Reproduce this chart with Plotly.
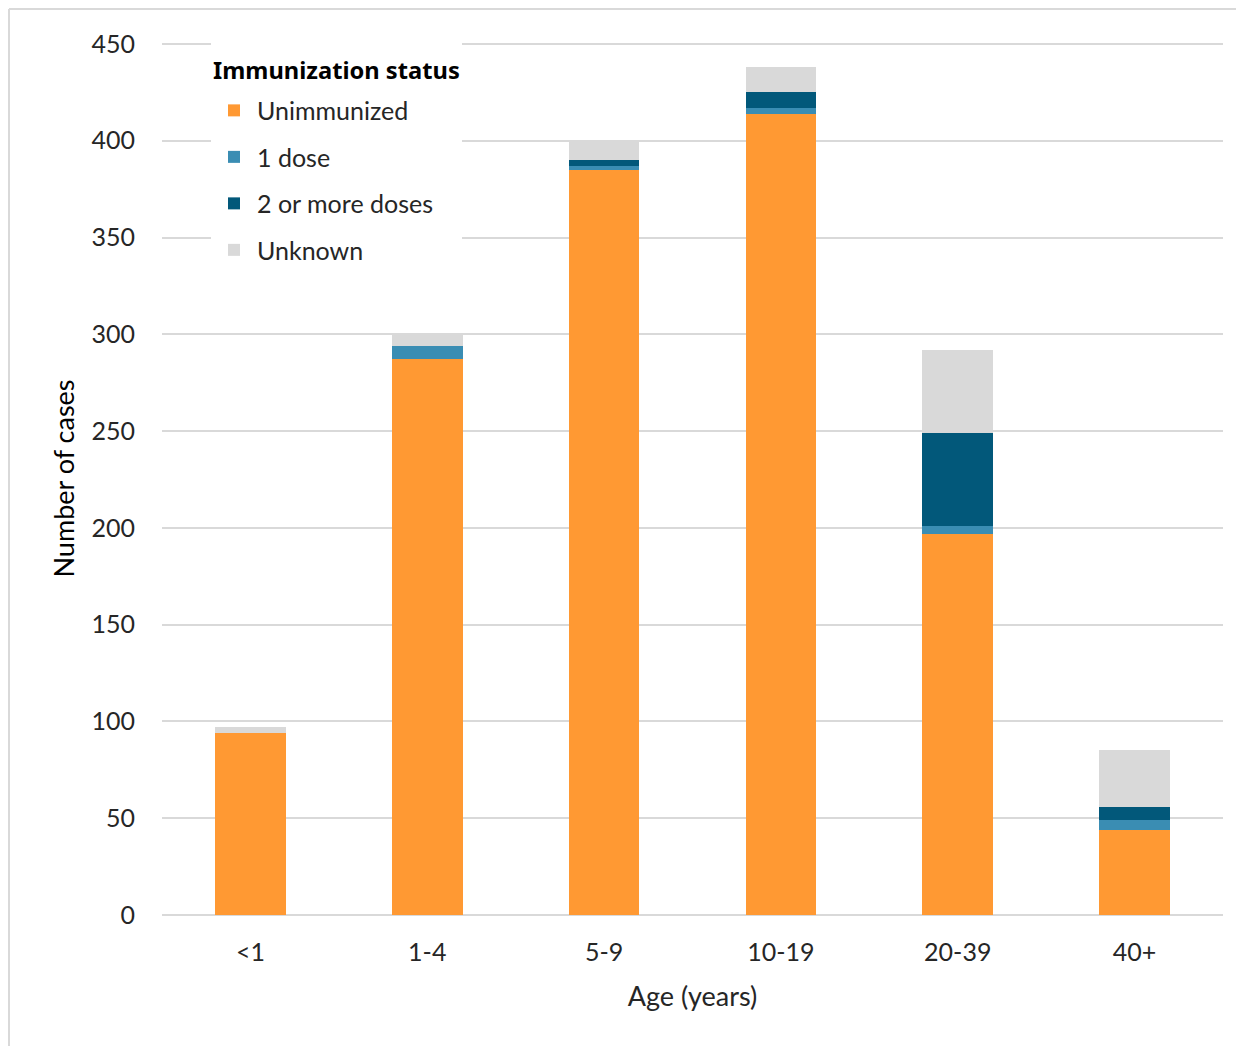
import plotly.graph_objects as go

categories = ["<1", "1-4", "5-9", "10-19", "20-39", "40+"]
unimmunized = [94, 287, 385, 414, 197, 44]
one_dose = [0, 7, 2, 3, 4, 5]
two_plus = [0, 0, 3, 8, 48, 7]
unknown = [3, 6, 10, 13, 43, 29]

series_names = ["Unimmunized", "1 dose", "2 or more doses", "Unknown"]
series_values = [unimmunized, one_dose, two_plus, unknown]
series_colors = ["#FF9933", "#3A8DB3", "#02587A", "#D9D9D9"]

FONT = "Lato"
FS = 25
TFS = 27
LEGEND_TITLE = "Immunization status"
fig = go.Figure()
for name, vals, col in zip(series_names, series_values, series_colors):
    fig.add_trace(go.Bar(
        x=categories, y=vals, name=name, legendgroup=name,
        marker=dict(color=col, line=dict(width=0)),
    ))

# page has an 8px body margin; figure is drawn starting at (8, 8)
OFF = 8
W, H = 1236, 1038
# plot area in reference (page) coordinates
PX0, PX1, PY0, PY1 = 162, 1223, 42, 915
L, T = PX0 - OFF, PY0 - OFF
R, B = W - (PX1 - OFF), H - (PY1 - OFF)
pw, ph = PX1 - PX0, PY1 - PY0

def px_x(x):
    return (x - PX0) / pw

def px_y(y):
    return (PY1 - y) / ph

shapes = [
    # outer frame lines (left and top)
    dict(type="line", xref="paper", yref="paper",
         x0=px_x(9), x1=px_x(9), y0=px_y(9), y1=px_y(1046),
         line=dict(color="#D9D9D9", width=2)),
    dict(type="line", xref="paper", yref="paper",
         x0=px_x(9), x1=px_x(1244), y0=px_y(9), y1=px_y(9),
         line=dict(color="#D9D9D9", width=2)),
]

# blank legend title (two lines of non-breaking spaces) only sizes the white legend box
blank_title = "\u00a0<br>" + "\u00a0" * 40

fig.update_layout(
    width=W, height=H,
    margin=dict(l=L, r=R, t=T, b=B, pad=0),
    barmode="stack", bargap=0.6,
    plot_bgcolor="white", paper_bgcolor="white",
    font=dict(family=FONT, size=FS, color="#262626"),
    showlegend=True,
    legend=dict(
        x=px_x(211), y=px_y(26), xanchor="left", yanchor="top",
        bgcolor="white", borderwidth=0,
        traceorder="grouped", tracegroupgap=11,
        font=dict(family=FONT, size=FS, color="#262626"),
        itemwidth=36,
        title=dict(text=blank_title, side="top",
                   font=dict(family="Noto Sans", size=23.7, color="rgba(0,0,0,0)")),
    ),
    annotations=[dict(
        text="<b>" + LEGEND_TITLE + "</b>", xref="paper", yref="paper",
        x=px_x(211), y=px_y(70), xanchor="left", yanchor="middle",
        showarrow=False, font=dict(family="Noto Sans", size=23.7, color="#000000"),
    )],
    shapes=shapes,
    xaxis=dict(
        showgrid=False, showline=False, ticks="",
        tickfont=dict(family=FONT, size=FS, color="#262626"),
        ticklabelstandoff=20,
        title=dict(text="Age (years)", standoff=22,
                   font=dict(family=FONT, size=TFS, color="#262626")),
    ),
    yaxis=dict(
        range=[0, 451], tickvals=list(range(0, 451, 50)),
        showgrid=True, gridcolor="#D9D9D9", gridwidth=2,
        zeroline=True, zerolinecolor="#D9D9D9", zerolinewidth=2,
        showline=False, ticks="",
        tickfont=dict(family=FONT, size=FS, color="#262626"),
        ticklabelstandoff=26,
        title=dict(text="Number of cases", standoff=9,
                   font=dict(family=FONT, size=TFS, color="#000000")),
    ),
)

fig.write_html("out.html")
